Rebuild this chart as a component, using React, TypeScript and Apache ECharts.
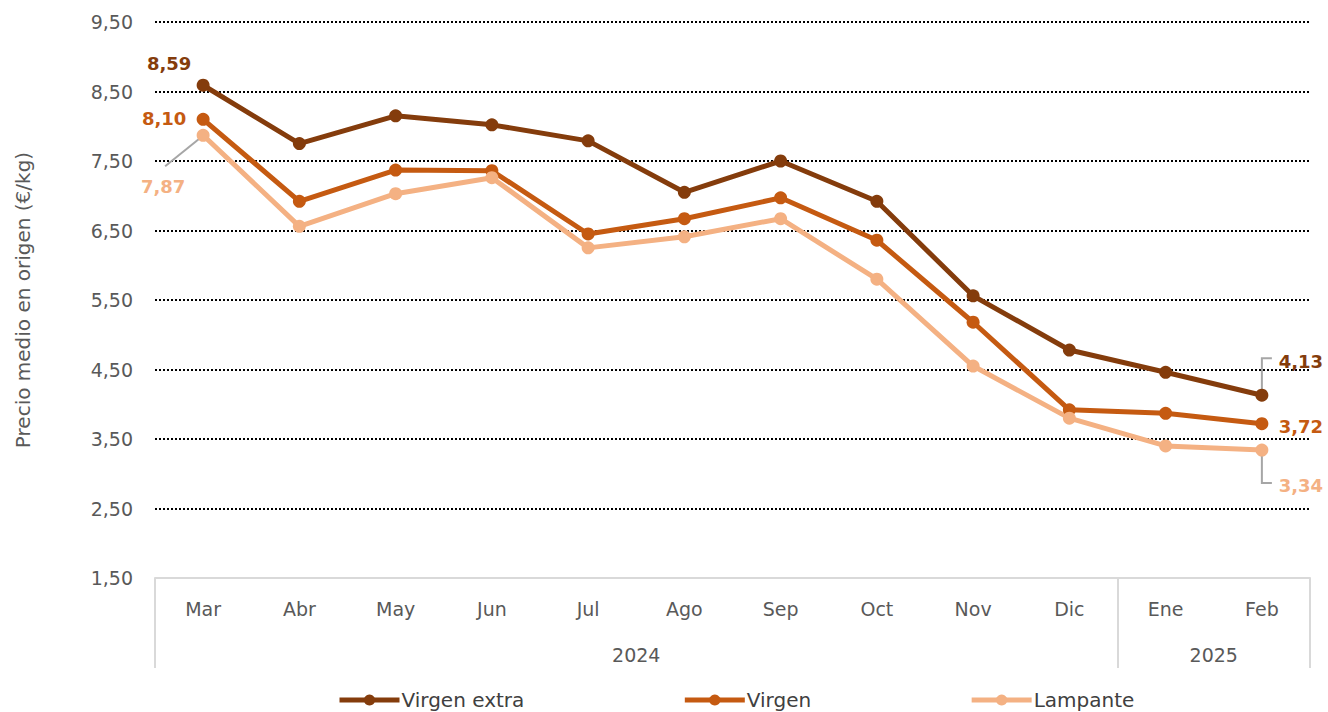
import React, { useEffect, useRef } from "react";
import * as echarts from "echarts";

const months = ["Mar", "Abr", "May", "Jun", "Jul", "Ago", "Sep", "Oct", "Nov", "Dic", "Ene", "Feb"];
const years = ["2024", "2025"];
const yearSpans = [10, 2];

const virgenExtra = [8.59, 7.75, 8.15, 8.02, 7.79, 7.05, 7.5, 6.92, 5.56, 4.78, 4.46, 4.13];
const virgen = [8.1, 6.92, 7.37, 7.36, 6.45, 6.67, 6.97, 6.36, 5.18, 3.92, 3.87, 3.72];
const lampante = [7.87, 6.56, 7.03, 7.26, 6.25, 6.41, 6.67, 5.8, 4.55, 3.8, 3.4, 3.34];

const FONT = "'DejaVu Sans', sans-serif";
const fmt = (v: number) => v.toFixed(2).replace(".", ",");

type LabelCfg = { idx: number; dx: number; dy: number; color: string };

const seriesDefs = [
  {
    name: "Virgen extra",
    values: virgenExtra,
    color: "#843C0C",
    labels: [
      { idx: 0, dx: -34, dy: -22, color: "#843C0C" },
      { idx: 11, dx: 39, dy: -34, color: "#843C0C" },
    ] as LabelCfg[],
  },
  {
    name: "Virgen",
    values: virgen,
    color: "#C55A11",
    labels: [
      { idx: 0, dx: -39, dy: -1, color: "#C55A11" },
      { idx: 11, dx: 39, dy: 3, color: "#C55A11" },
    ] as LabelCfg[],
  },
  {
    name: "Lampante",
    values: lampante,
    color: "#F4B183",
    labels: [
      { idx: 0, dx: -40, dy: 51, color: "#F4B183" },
      { idx: 11, dx: 39, dy: 35, color: "#F4B183" },
    ] as LabelCfg[],
  },
];

// leader lines: which series / point, and the shape (relative pixel offsets)
const leaders = [
  { series: 2, idx: 0, pts: [[-2, 2], [-38, 31]] },
  { series: 0, idx: 11, pts: [[0, -3], [0, -37], [10, -37]] },
  { series: 2, idx: 11, pts: [[0, 3], [0, 33], [10, 33]] },
];

export default function App() {
  const ref = useRef<HTMLDivElement>(null);
  useEffect(() => {
    document.body.style.margin = "0";
    if (!ref.current) return;
    const chart = echarts.init(ref.current, undefined, { renderer: "svg" });

    const tickVals: number[] = [0];
    const labelVals: number[] = [];
    let acc = 0;
    yearSpans.forEach((s) => {
      labelVals.push(acc + s / 2);
      acc += s;
      tickVals.push(acc);
    });

    const lineSeries = seriesDefs.map((s) => ({
      name: s.name,
      type: "line",
      z: 3,
      data: s.values.map((v, i) => {
        const l = s.labels.find((x) => x.idx === i);
        if (!l) return v;
        return {
          value: v,
          label: {
            show: true,
            position: "inside",
            offset: [l.dx, l.dy],
            formatter: (p: any) => fmt(p.value),
            color: l.color,
            fontSize: 18,
            fontWeight: "bold",
            fontFamily: FONT,
          },
        };
      }),
      symbol: "circle",
      symbolSize: 13,
      lineStyle: { width: 5, color: s.color },
      itemStyle: { color: s.color },
      label: { show: false },
    }));

    const leaderSeries = {
      type: "custom",
      name: "leaders",
      z: 2,
      silent: true,
      data: leaders.map((l) => [l.idx, seriesDefs[l.series].values[l.idx]]),
      renderItem: (params: any, api: any) => {
        const p = api.coord([api.value(0), api.value(1)]);
        const L = leaders[params.dataIndex];
        return {
          type: "polyline",
          shape: { points: L.pts.map((q) => [p[0] + q[0], p[1] + q[1]]) },
          style: { stroke: "#A6A6A6", lineWidth: 2, fill: "none" },
        };
      },
    };

    chart.setOption({
      animation: false,
      grid: { left: 155, right: 18, top: 22, bottom: 134 },
      legend: {
        data: seriesDefs.map((s) => s.name),
        bottom: -3,
        left: 332,
        itemGap: 158,
        itemWidth: 60,
        itemHeight: 14,
        lineStyle: { width: 5 },
        textStyle: { fontSize: 20, color: "#404040", fontFamily: FONT, padding: [0, 0, 0, -3] },
      },
      xAxis: [
        {
          type: "category",
          data: months,
          boundaryGap: true,
          z: 5,
          axisLine: { show: true, lineStyle: { color: "#D9D9D9", width: 2 } },
          axisTick: { show: false },
          axisLabel: { margin: 21, fontSize: 19, color: "#595959", fontFamily: FONT },
          splitLine: { show: false },
        },
        {
          type: "value",
          min: 0,
          max: months.length,
          position: "bottom",
          z: 5,
          axisLine: { show: false },
          splitLine: { show: false },
          axisTick: {
            show: true,
            customValues: tickVals,
            length: 90,
            lineStyle: { color: "#D9D9D9", width: 2 },
          },
          axisLabel: {
            customValues: labelVals,
            formatter: (v: number) => {
              const i = labelVals.findIndex((x) => Math.abs(x - v) < 1e-6);
              return i >= 0 ? years[i] : "";
            },
            margin: 67,
            fontSize: 19,
            color: "#595959",
            fontFamily: FONT,
          },
        },
      ],
      yAxis: {
        type: "value",
        min: 1.5,
        max: 9.5,
        interval: 1,
        name: "Precio medio en origen (€/kg)",
        nameLocation: "middle",
        nameGap: 122,
        nameTextStyle: { fontSize: 20, color: "#595959", fontFamily: FONT },
        axisLine: { show: false },
        axisTick: { show: false },
        axisLabel: { formatter: fmt, fontSize: 19, color: "#595959", margin: 22, fontFamily: FONT },
        splitLine: { lineStyle: { type: [2, 2], color: "#000000", width: 2 } },
      },
      series: [leaderSeries, ...lineSeries],
    });
    return () => chart.dispose();
  }, []);
  return <div ref={ref} style={{ width: 1328, height: 712 }} />;
}
